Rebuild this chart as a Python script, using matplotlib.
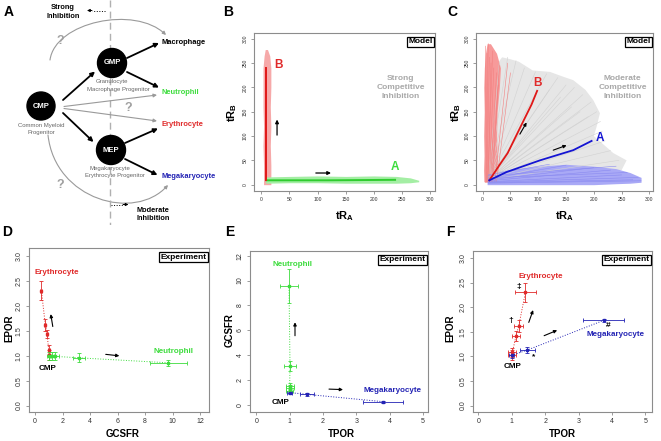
import matplotlib
matplotlib.use("Agg")
import matplotlib.pyplot as plt
from matplotlib.patches import Circle, FancyArrowPatch
from matplotlib.path import Path

plt.rcParams['font.family'] = ['Liberation Sans', 'DejaVu Sans']
plt.rcParams['mathtext.fontset'] = 'custom'
plt.rcParams['mathtext.rm'] = 'Liberation Sans'
plt.rcParams['mathtext.bf'] = 'Liberation Sans:bold'

# ---------------- data ----------------
# panel B (strong competitive inhibition), envelopes of the simulated runs
b_red_y = [0, 40, 80, 120, 160, 200, 240, 265, 278]
b_red_left = [4, 4, 3, 4, 3, 3, 3, 5, 7]
b_red_right = [17, 17, 16, 17, 16, 17, 17, 15, 11]
b_red_mean_x = [9, 9, 9]
b_red_mean_y = [9, 120, 240]
b_grn_x = [8, 50, 100, 150, 200, 240, 265, 280]
b_grn_low = [3, 4, 4, 3, 3, 3, 4, 6]
b_grn_high = [16, 17, 18, 17, 18, 17, 14, 9]
b_grn_mean_x = [9, 120, 238]
b_grn_mean_y = [9, 9, 10]

# panel C (moderate competitive inhibition)
c_gray_x = [10, 15, 20, 35, 50, 65, 90, 121, 145, 163, 185, 199, 211, 205, 200, 215, 235, 259, 250, 200, 10]
c_gray_y = [8, 150, 240, 262, 258, 253, 235, 232, 222, 215, 195, 174, 147, 119, 100, 85, 65, 50, 30, 20, 8]
c_gray_end_x = [30, 45, 60, 75, 95, 115, 135, 150, 165, 180, 195, 205, 212, 215, 220, 230, 245, 160, 175, 190, 140, 120]
c_gray_end_y = [250, 262, 255, 240, 232, 228, 220, 205, 200, 185, 170, 150, 130, 110, 90, 70, 50, 160, 150, 140, 180, 195]
c_red_y = [5, 30, 60, 100, 150, 200, 240, 270, 290]
c_red_left = [3, 2, 3, 2, 3, 2, 3, 5, 8]
c_red_right = [28, 27, 26, 25, 26, 30, 32, 25, 14]
c_red_start_x = [4, 6, 8, 10, 12, 14, 16, 9, 7, 18, 22, 25]
c_red_end_x = [5, 8, 12, 15, 20, 25, 28, 18, 10, 30, 45, 50]
c_red_end_y = [285, 270, 262, 250, 240, 230, 205, 275, 290, 245, 250, 230]
c_blue_x = [8, 30, 60, 100, 150, 200, 240, 265, 285]
c_blue_low = [0, 0, 0, 0, 0, 0, 2, 3, 5]
c_blue_high = [20, 28, 33, 38, 42, 38, 33, 25, 15]
c_blue_start_y = [12, 10, 8, 6, 4, 3, 14, 18, 5, 20]
c_blue_end_x = [150, 200, 230, 250, 270, 285, 260, 240, 280, 120]
c_blue_end_y = [40, 35, 30, 20, 10, 8, 25, 38, 15, 42]
c_red_mean_x = [12, 30, 45, 60, 75, 88, 98]
c_red_mean_y = [9, 40, 65, 100, 135, 165, 193]
c_blue_mean_x = [12, 43, 103, 163, 196]
c_blue_mean_y = [9, 26, 50, 71, 90]

# panel D: GCSFR (x) vs EPOR (y)
d_ery_x = [1.0, 1.0, 0.87, 0.75, 0.46]
d_ery_y = [1.02, 1.11, 1.44, 1.62, 2.31]
d_ery_xerr = [0.08, 0.08, 0.07, 0.07, 0.07]
d_ery_yerr = [0.1, 0.1, 0.08, 0.12, 0.19]
d_neu_x = [1.0, 1.2, 1.43, 3.2, 9.7]
d_neu_y = [1.0, 1.0, 0.99, 0.96, 0.86]
d_neu_xerr = [0.1, 0.2, 0.3, 0.45, 1.33]
d_neu_yerr = [0.08, 0.08, 0.08, 0.09, 0.06]

# panel E: TPOR (x) vs GCSFR (y)
e_neu_x = [1.0, 1.0, 1.0, 1.01, 0.98]
e_neu_y = [1.1, 1.34, 1.5, 3.16, 9.57]
e_neu_xerr = [0.1, 0.12, 0.12, 0.18, 0.27]
e_neu_yerr = [0.15, 0.3, 0.3, 0.4, 1.34]
e_mk_x = [1.0, 1.51, 3.8]
e_mk_y = [1.0, 0.86, 0.27]
e_mk_xerr = [0.08, 0.21, 0.6]
e_mk_yerr = [0.08, 0.1, 0.08]

# panel F: TPOR (x) vs EPOR (y)
f_ery_x = [1.0, 1.02, 1.13, 1.21, 1.41]
f_ery_y = [1.02, 1.08, 1.42, 1.62, 2.30]
f_ery_xerr = [0.12, 0.12, 0.12, 0.13, 0.32]
f_ery_yerr = [0.1, 0.1, 0.1, 0.12, 0.2]
f_mk_x = [1.0, 1.47, 3.75]
f_mk_y = [1.02, 1.13, 1.73]
f_mk_xerr = [0.08, 0.22, 0.61]
f_mk_yerr = [0.06, 0.07, 0.03]

RED = '#e02a2a'
GREEN = '#3ddc3d'
BLUE = '#2323b4'
GTXT = '#a8a8a8'

W, H = 661, 441
fig = plt.figure(figsize=(W / 100, H / 100), dpi=100)


def box(l, t, r, b):
    return [l / W, 1 - b / H, (r - l) / W, (b - t) / H]


def ftext(x, y, s, **kw):
    fig.text(x / W, 1 - y / H, s, ha='center', va='center', **kw)


def style(ax, fs, xt, yt, fmt=None):
    for s in ax.spines.values():
        s.set_color('#8c8c8c')
        s.set_linewidth(0.8)
    ax.set_xticks(xt)
    ax.set_yticks(yt)
    if fmt:
        ax.set_yticklabels([fmt % v for v in yt])
    ax.tick_params(colors='#8c8c8c', labelcolor='#333333', length=2.5,
                   width=0.6, labelsize=fs, pad=2)
    ax.tick_params(axis='y', labelrotation=90)
    plt.setp(ax.get_yticklabels(), va='center')


def tag(ax, s):
    ax.text(0.986, 0.966, s, transform=ax.transAxes, ha='right', va='top',
            fontsize=6, fontweight='bold',
            bbox=dict(boxstyle='square,pad=0.18', fc='white', ec='black', lw=0.9))


def arrow(ax, x0, y0, x1, y1, color='black', lw=0.8, ms=5):
    ax.annotate('', xy=(x1, y1), xytext=(x0, y0),
                arrowprops=dict(arrowstyle='-|>', color=color, lw=lw,
                                mutation_scale=ms, shrinkA=0, shrinkB=0))


# ---------------- panel A: diagram ----------------
axA = fig.add_axes(box(0, 0, 215, 225))
axA.set_xlim(0, 215)
axA.set_ylim(225, 0)
axA.axis('off')

axA.plot([109.5, 109.5], [0, 225], color='#b0b0b0', lw=1, ls=(0, (5, 3)))

for (cx, cy, r, nm) in [(41, 106, 14, 'CMP'), (112, 63, 14.5, 'GMP'), (111, 150, 14.5, 'MEP')]:
    axA.add_patch(Circle((cx, cy), r, color='black', zorder=3))
    axA.text(cx, cy, nm, color='white', fontsize=5.5, fontweight='bold',
             ha='center', va='center', zorder=4)

sub = dict(fontsize=4.3, color='#666666', ha='center', va='center')
axA.text(41, 125, 'Common Myeloid', **sub)
axA.text(41, 132.5, 'Progenitor', **sub)
axA.text(112, 81.5, 'Granulocyte', **sub)
axA.text(118, 89, 'Macrophage Progenitor', **sub)
axA.text(110, 168.5, 'Megakaryocyte', **sub)
axA.text(115, 176, 'Erythrocyte Progenitor', **sub)

lab = dict(fontsize=5.4, fontweight='bold', ha='left', va='center')
axA.text(161, 42.5, 'Macrophage', color='black', **lab)
axA.text(161, 92.5, 'Neutrophil', color=GREEN, **lab)
axA.text(161, 124.5, 'Erythrocyte', color=RED, **lab)
axA.text(161, 177, 'Megakaryocyte', color=BLUE, **lab)

for (x0, y0, x1, y1) in [(63, 100, 95, 71.5), (63, 113, 93.5, 142),
                         (127, 58, 159, 43), (127, 72, 159, 87.5),
                         (125, 143, 158, 128.5), (125, 159, 157.5, 175)]:
    arrow(axA, x0, y0, x1, y1, lw=1.3, ms=6)
for (x0, y0, x1, y1) in [(64, 106.5, 157, 95), (64, 108.5, 157, 121)]:
    arrow(axA, x0, y0, x1, y1, color='#9a9a9a', lw=0.8, ms=5)

for verts in [[(50, 60), (55, 22), (135, 5), (166, 35)],
              [(48, 135), (55, 200), (135, 222), (168, 185)]]:
    p = Path(verts, [Path.MOVETO, Path.CURVE4, Path.CURVE4, Path.CURVE4])
    axA.add_patch(FancyArrowPatch(path=p, arrowstyle='-|>', color='#9a9a9a',
                                  lw=0.8, mutation_scale=5))

for (qx, qy) in [(60, 41), (128, 108), (60, 185)]:
    axA.text(qx, qy, '?', fontsize=9, fontweight='bold', color='#a0a0a0',
             ha='center', va='center')

inh = dict(fontsize=5.3, fontweight='bold', ha='center', va='center')
axA.text(63, 7.5, 'Strong', **inh)
axA.text(63, 16, 'Inhibition', **inh)
axA.plot([105, 92], [10.5, 10.5], color='black', lw=0.7, ls=':')
arrow(axA, 92, 10.5, 87, 10.5, lw=0.7, ms=4)
axA.text(153, 210.5, 'Moderate', **inh)
axA.text(153, 219, 'Inhibition', **inh)
axA.plot([111, 123], [204.5, 204.5], color='black', lw=0.7, ls=':')
arrow(axA, 123, 204.5, 128.5, 204.5, lw=0.7, ms=4)

# ---------------- panel B ----------------
axB = fig.add_axes(box(254, 33, 435, 191))
axB.fill_betweenx(b_red_y, b_red_left, b_red_right, color='#f6a9a9', lw=0)
axB.fill_between(b_grn_x, b_grn_low, b_grn_high, color='#a4eea4', lw=0)
axB.plot(b_grn_mean_x, b_grn_mean_y, color='#2ecc2e', lw=1.4)
axB.plot(b_red_mean_x, b_red_mean_y, color='#e01818', lw=1.4)
axB.set_xlim(-13, 309)
axB.set_ylim(-13, 312)
style(axB, 3.6, range(0, 301, 50), range(0, 301, 50))
tag(axB, 'Model')
axB.text(31, 246, 'B', color=RED, fontsize=8.5, fontweight='bold', ha='center', va='center')
axB.text(238, 36, 'A', color=GREEN, fontsize=8.5, fontweight='bold', ha='center', va='center')
for i, s in enumerate(['Strong', 'Competitive', 'Inhibition']):
    axB.text(248, 218 - 18.5 * i, s, color=GTXT, fontsize=6, fontweight='bold',
             ha='center', va='center')
arrow(axB, 28, 102, 28, 134, lw=0.9, ms=5)
arrow(axB, 97, 24, 124, 24, lw=0.9, ms=5)

# ---------------- panel C ----------------
axC = fig.add_axes(box(476, 33, 653, 191))
axC.fill(c_gray_x, c_gray_y, color='#e6e6e6', lw=0)
for ex, ey in zip(c_gray_end_x, c_gray_end_y):
    axC.plot([10, ex], [10, ey], color='#d2d2d2', lw=0.4)
axC.fill_betweenx(c_red_y, c_red_left, c_red_right, color='#f79a9a', lw=0)
for sx, ex, ey in zip(c_red_start_x, c_red_end_x, c_red_end_y):
    axC.plot([sx, ex], [6, ey], color='#f28080', lw=0.4)
axC.fill_between(c_blue_x, c_blue_low, c_blue_high, color='#a9a9f6', lw=0)
for sy, ex, ey in zip(c_blue_start_y, c_blue_end_x, c_blue_end_y):
    axC.plot([10, ex], [sy, ey], color='#8a8af0', lw=0.4)
axC.plot(c_red_mean_x, c_red_mean_y, color='#e01818', lw=1.3)
axC.plot(c_blue_mean_x, c_blue_mean_y, color='#1414d2', lw=1.3)
axC.set_xlim(-12, 306.5)
axC.set_ylim(-13, 312)
style(axC, 3.6, range(0, 301, 50), range(0, 301, 50))
tag(axC, 'Model')
axC.text(98, 209, 'B', color=RED, fontsize=8.5, fontweight='bold', ha='center', va='center')
axC.text(211, 96, 'A', color='#1414d2', fontsize=8.5, fontweight='bold', ha='center', va='center')
for i, s in enumerate(['Moderate', 'Competitive', 'Inhibition']):
    axC.text(252, 218 - 18.5 * i, s, color=GTXT, fontsize=6, fontweight='bold',
             ha='center', va='center')
arrow(axC, 67, 104, 79, 128, lw=0.8, ms=4.5)
arrow(axC, 127, 71, 151, 81, lw=0.8, ms=4.5)

for x in (345, 565):
    ftext(x, 216, r'$\mathbf{tR_A}$', fontsize=8)
for x in (232, 456):
    ftext(x, 112, r'$\mathbf{tR_B}$', fontsize=8, rotation=90)


# ---------------- panels D, E, F ----------------
def series(ax, x, y, xe, ye, c):
    ax.plot(x, y, color=c, lw=0.7, ls=':')
    ax.errorbar(x, y, xerr=xe, yerr=ye, fmt='s', ms=1.6, color=c, mec=c,
                elinewidth=0.6, capsize=1.6, capthick=0.6)


def name(ax, x, y, s, c):
    ax.text(x, y, s, color=c, fontsize=5.8, fontweight='bold', ha='center', va='center')


axD = fig.add_axes(box(29, 248, 209, 412))
series(axD, d_ery_x, d_ery_y, d_ery_xerr, d_ery_yerr, RED)
series(axD, d_neu_x, d_neu_y, d_neu_xerr, d_neu_yerr, GREEN)
axD.set_xlim(-0.44, 12.65)
axD.set_ylim(-0.13, 3.17)
style(axD, 5, range(0, 13, 2), [0, 0.5, 1.0, 1.5, 2.0, 2.5, 3.0], '%.1f')
tag(axD, 'Experiment')
name(axD, 1.58, 2.68, 'Erythrocyte', RED)
name(axD, 10.06, 1.08, 'Neutrophil', GREEN)
name(axD, 0.92, 0.74, 'CMP', 'black')
arrow(axD, 1.29, 1.59, 1.14, 1.84, lw=0.8, ms=4.5)
arrow(axD, 5.14, 1.03, 6.13, 1.0, lw=0.8, ms=4.5)

axE = fig.add_axes(box(250, 251, 428, 412))
series(axE, e_neu_x, e_neu_y, e_neu_xerr, e_neu_yerr, GREEN)
series(axE, e_mk_x, e_mk_y, e_mk_xerr, e_mk_yerr, BLUE)
axE.set_xlim(-0.19, 5.15)
axE.set_ylim(-0.56, 12.38)
style(axE, 5, range(0, 6), range(0, 13, 2))
tag(axE, 'Experiment')
name(axE, 1.09, 11.3, 'Neutrophil', GREEN)
name(axE, 4.08, 1.15, 'Megakaryocyte', BLUE)
name(axE, 0.74, 0.22, 'CMP', 'black')
arrow(axE, 1.16, 5.57, 1.16, 6.65, lw=0.8, ms=4.5)
arrow(axE, 2.18, 1.28, 2.6, 1.24, lw=0.8, ms=4.5)

axF = fig.add_axes(box(473, 251, 652, 412))
series(axF, f_ery_x, f_ery_y, f_ery_xerr, f_ery_yerr, RED)
series(axF, f_mk_x, f_mk_y, f_mk_xerr, f_mk_yerr, BLUE)
axF.set_xlim(-0.16, 5.2)
axF.set_ylim(-0.13, 3.14)
style(axF, 5, range(0, 6), [0, 0.5, 1.0, 1.5, 2.0, 2.5, 3.0], '%.1f')
tag(axF, 'Experiment')
name(axF, 1.86, 2.62, 'Erythrocyte', RED)
name(axF, 4.1, 1.44, 'Megakaryocyte', BLUE)
name(axF, 1.03, 0.8, 'CMP', 'black')
for (sx, sy, s) in [(1.22, 2.42, '\u2021'), (0.98, 1.72, '\u2020'), (3.88, 1.62, '#'), (1.64, 1.0, '*')]:
    axF.text(sx, sy, s, fontsize=6, fontweight='bold', ha='center', va='center')
arrow(axF, 1.51, 1.69, 1.64, 1.94, lw=0.8, ms=4.5)
arrow(axF, 1.97, 1.42, 2.36, 1.53, lw=0.8, ms=4.5)

ax_lab = dict(fontsize=7, fontweight='bold')
ftext(123, 434, 'GCSFR', **ax_lab)
ftext(9.5, 328, 'EPOR', rotation=90, **ax_lab)
ftext(341, 434, 'TPOR', **ax_lab)
ftext(230, 330, 'GCSFR', rotation=90, **ax_lab)
ftext(562, 434, 'TPOR', **ax_lab)
ftext(450, 328, 'EPOR', rotation=90, **ax_lab)

for (x, y, s) in [(9, 12.5, 'A'), (228, 12, 'B'), (452, 12, 'C'),
                  (7, 231.5, 'D'), (230, 231.5, 'E'), (450, 231.5, 'F')]:
    ftext(x, y, s, fontsize=10, fontweight='bold')

fig.savefig('out.png', dpi=100)
